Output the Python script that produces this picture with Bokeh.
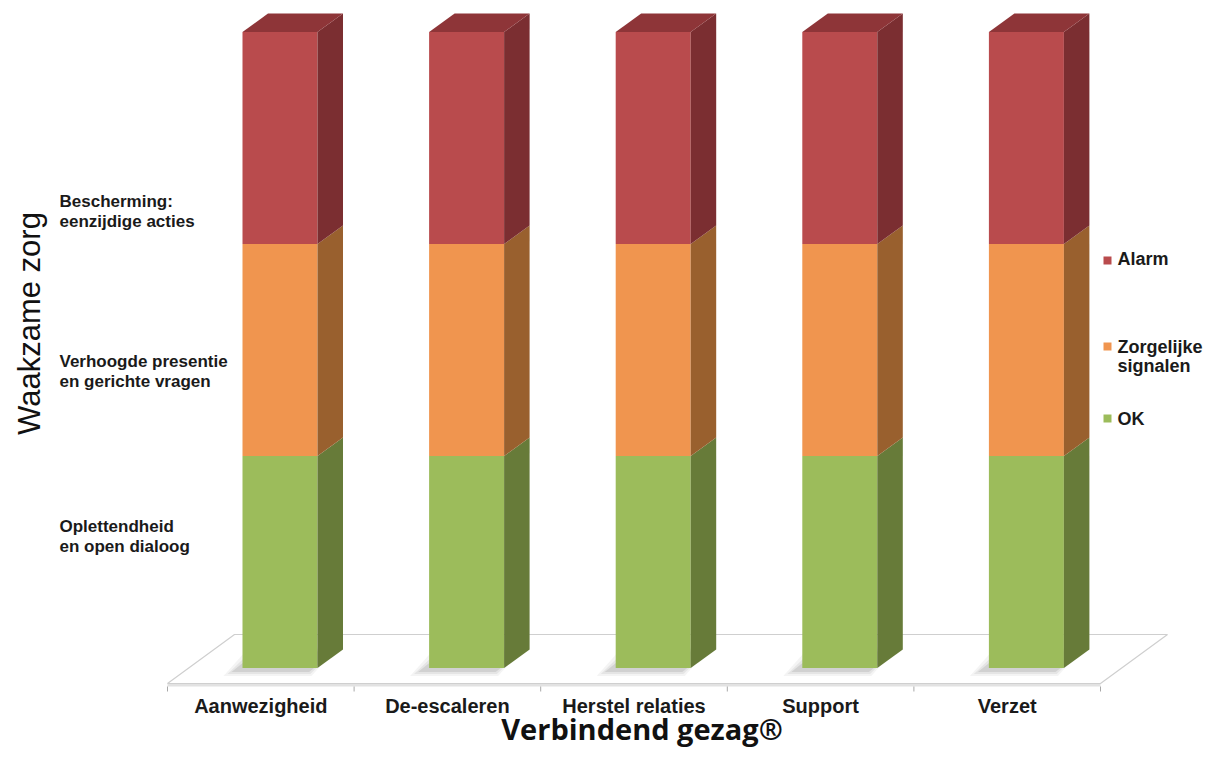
from bokeh.plotting import figure
from bokeh.models import ColumnDataSource, Range1d
from bokeh.core.properties import value
from bokeh.embed import file_html
from bokeh.resources import INLINE

# ---------------- data ----------------
categories = ["Aanwezigheid", "De-escaleren", "Herstel relaties", "Support", "Verzet"]
ok = [1, 1, 1, 1, 1]
zorgelijk = [1, 1, 1, 1, 1]
alarm = [1, 1, 1, 1, 1]
series_names = ["OK", "Zorgelijke\nsignalen", "Alarm"]          # bottom -> top
level_labels = ["Oplettendheid\nen open dialoog",
                "Verhoogde presentie\nen gerichte vragen",
                "Bescherming:\neenzijdige acties"]
x_title = "Verbindend gezag®"
y_title = "Waakzame zorg"

# ---------------- styles ----------------
front_cols = ["#9CBC5B", "#F0954F", "#B94B4D"]
side_cols = ["#677B39", "#99602E", "#7B2E31"]
top_col = "#8E3538"

W, H = 1213, 751
PX_CAT = 186.6          # px per category
X0_PX = 167.0           # px of category edge 0
Y0_PX = 667.5           # px of value 0
PX_VAL = 212.0          # px per value unit
TFIX = 7                # text baseline correction (px)


def X(px):
    return (px - X0_PX) / PX_CAT


def Y(py):
    return (Y0_PX - py) / PX_VAL


def YT(py):
    return Y(py - TFIX)


p = figure(width=W, height=H, output_backend="svg", toolbar_location=None,
           x_range=Range1d(X(0), X(W)), y_range=Range1d(Y(H), Y(0)),
           x_axis_location=None, y_axis_location=None, min_border=0)
p.grid.visible = False
p.outline_line_color = None
p.background_fill_color = "white"

# bar geometry (in data units)
OFF = 75 / PX_CAT        # front face left offset within category
BW = 75 / PX_CAT         # front face width
DX = 25.5 / PX_CAT       # depth x
DY = 18.5 / PX_VAL       # depth y

# ---------------- floor ----------------
n = len(categories)
f_front = Y(683)
f_back = Y(634)
f_dx = 67 / PX_CAT
p.quad(left=[0], right=[n], bottom=[Y(686)], top=[f_front],
       fill_color="#E2E2E2", line_color=None)
p.patch(x=[0, n, n + f_dx, f_dx], y=[f_front, f_front, f_back, f_back],
        fill_color="white", line_color="#CFCFCF", line_width=1.2)
p.segment(x0=list(range(n + 1)), y0=[Y(686)] * (n + 1),
          x1=list(range(n + 1)), y1=[Y(691)] * (n + 1),
          line_color="#A8A8A8", line_width=1)

# ---------------- shadows ----------------
for grow, alpha in [(10, 0.06), (6, 0.08), (2, 0.12)]:
    gx = grow / PX_CAT
    gy = grow / PX_VAL * 0.5
    xs, ys = [], []
    for i in range(n):
        l = i + OFF - 9 / PX_CAT
        b = -3 / PX_VAL
        xs.append([l - gx, l + BW + gx * 0.3, l + BW + DX + gx * 0.3, l + DX - gx])
        ys.append([b - gy, b - gy, b + DY + gy, b + DY + gy])
    p.patches(xs=xs, ys=ys, fill_color="#404040", fill_alpha=alpha, line_color=None)

# ---------------- bars ----------------
series = [ok, zorgelijk, alarm]
bottoms = [0.0] * n
for s, vals in enumerate(series):
    lefts = [i + OFF for i in range(n)]
    rights = [i + OFF + BW for i in range(n)]
    tops = [bottoms[i] + vals[i] for i in range(n)]
    src = ColumnDataSource(dict(left=lefts, right=rights, bottom=list(bottoms), top=tops))
    p.quad(left="left", right="right", bottom="bottom", top="top", source=src,
           fill_color=front_cols[s], line_color=None)
    sx, sy = [], []
    for i in range(n):
        r = rights[i]
        sx.append([r, r + DX, r + DX, r])
        sy.append([bottoms[i], bottoms[i] + DY, tops[i] + DY, tops[i]])
    p.patches(xs=sx, ys=sy, fill_color=side_cols[s], line_color=None)
    bottoms = tops

# top faces
tx, ty = [], []
for i in range(n):
    l = i + OFF
    r = l + BW
    t = bottoms[i]
    tx.append([l, r, r + DX, l + DX])
    ty.append([t, t, t + DY, t + DY])
p.patches(xs=tx, ys=ty, fill_color=top_col, line_color=None)

# ---------------- category labels ----------------
p.text(x=[i + 0.5 for i in range(n)], y=[YT(712)] * n, text=categories,
       text_font=value("Liberation Sans"), text_font_style="bold",
       text_font_size="20px", text_align="center", text_baseline="alphabetic",
       text_color="#1A1A1A")

# ---------------- level labels (left) ----------------
first_baselines = [533, 368, 208]
lx, ly, lt = [], [], []
for lab, b in zip(level_labels, first_baselines):
    for k, line in enumerate(lab.split("\n")):
        lx.append(X(59))
        ly.append(YT(b + 20 * k))
        lt.append(line)
p.text(x=lx, y=ly, text=lt, text_font=value("Liberation Sans"),
       text_font_style="bold", text_font_size="17px", text_align="left",
       text_baseline="alphabetic", text_color="#1A1A1A")

# ---------------- titles ----------------
p.text(x=[X(641.5)], y=[YT(735)], text=[x_title], text_font=value("Open Sans"),
       text_font_style="bold", text_font_size="29px", text_align="center",
       text_baseline="alphabetic", text_color="#111111")
p.text(x=[X(29)], y=[Y(323)], text=[y_title], angle=1.5708,
       text_font=value("Liberation Sans"), text_font_style="normal",
       text_font_size="31px", text_align="center", text_baseline="middle",
       text_color="#111111")

# ---------------- legend ----------------
sq_y = [418, 346, 260]          # OK, Zorgelijke, Alarm
text_base = [425, 353, 265]
p.scatter(x=[X(1107)] * 3, y=[Y(v) for v in sq_y], marker="square", size=8,
          fill_color=front_cols, line_color=None)
gx, gy, gt = [], [], []
for s, name in enumerate(series_names):
    for k, line in enumerate(name.split("\n")):
        gx.append(X(1117))
        gy.append(YT(text_base[s] + 19 * k))
        gt.append(line)
p.text(x=gx, y=gy, text=gt, text_font=value("Liberation Sans"),
       text_font_style="bold", text_font_size="18px", text_align="left",
       text_baseline="alphabetic", text_color="#1A1A1A")

open("out.html", "w").write(file_html(p, INLINE))
